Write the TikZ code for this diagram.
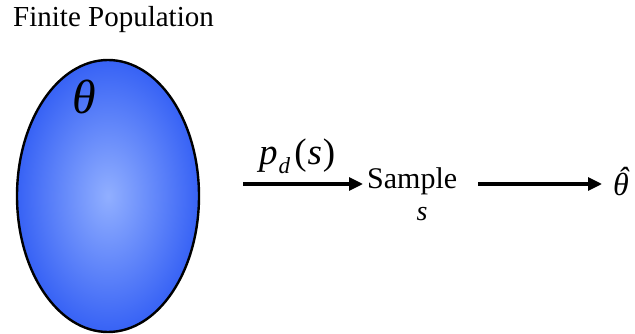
\documentclass[tikz,border=0pt]{standalone}
\usepackage{fontspec}
\setmainfont{Liberation Serif}
\usetikzlibrary{shapes.geometric,arrows.meta}
\tikzset{
  lbl/.style={inner sep=0pt, anchor=base west},
  arr/.style={line width=3.2pt, -{Triangle[length=14pt,width=13pt]}},
}
\begin{document}
\begin{tikzpicture}[x=1pt,y=-1pt]
\useasboundingbox (0,0) rectangle (635,334);
\node (title) [lbl, font=\fontsize{29}{32}\selectfont] at (13,27) {Finite Population};
\node (pop) [ellipse, draw, line width=2.4pt, minimum width=182pt, minimum height=272pt,
  inner sep=0pt, inner color={rgb,255:red,145;green,175;blue,255},
  outer color={rgb,255:red,55;green,98;blue,245}] at (108,196) {};
\node (theta) [lbl, font=\fontsize{48}{50}\selectfont] at (72,114) {\textit{θ}};
\node (pd) [lbl, font=\fontsize{37}{40}\selectfont] at (259,165)
  {\textit{p}\kern1pt\raisebox{-0.22em}{\fontsize{23}{25}\selectfont\textit{d}}\kern4pt(\kern1pt\textit{s}\kern1pt)};
\node (sample) [lbl, font=\fontsize{30}{32}\selectfont] at (367,189) {Sample};
\node (s) [inner sep=0pt, anchor=base, font=\fontsize{28}{30}\selectfont] at (422,221) {\textit{s}};
\node (thetahat) [lbl, font=\fontsize{32}{34}\selectfont] at (613,196)
  {\textit{\makebox[0pt][l]{\kern0.14em\raisebox{0.2em}{ˆ}}θ}};
\coordinate (a1s) at (243,184);
\coordinate (a2s) at (478,184);
\draw[arr, shorten >=4pt] (a1s) -- (a1s -| sample.west);
\draw[arr, shorten >=11pt] (a2s) -- (a2s -| thetahat.west);
\end{tikzpicture}
\end{document}
